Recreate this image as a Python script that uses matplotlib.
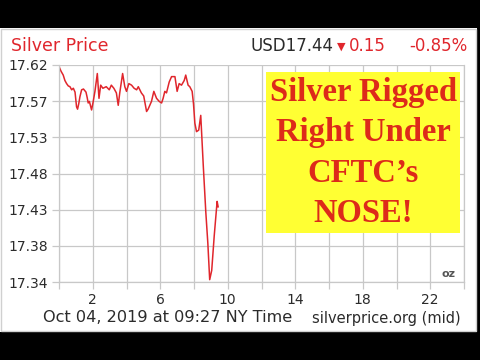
import matplotlib
matplotlib.use("Agg")
import matplotlib.pyplot as plt
from matplotlib.patches import Rectangle

# -----------------------------------
# Data
# -----------------------------------

hours = [0.0, 0.12, 0.25, 0.35, 0.45, 0.55, 0.65, 0.75, 0.85, 0.95,
         1.04, 1.1, 1.17, 1.24, 1.34, 1.45, 1.6, 1.67, 1.73, 1.8,
         1.93, 2.02, 2.13, 2.27, 2.37, 2.47, 2.6, 2.8, 2.98, 3.1,
         3.25, 3.4, 3.51, 3.6, 3.77, 3.9, 4.0, 4.14, 4.3, 4.45,
         4.6, 4.7, 4.88, 5.02, 5.19, 5.28, 5.48, 5.62, 5.78, 5.94,
         6.08, 6.17, 6.27, 6.37, 6.53, 6.67, 6.87, 7.0, 7.12, 7.26,
         7.42, 7.51, 7.65, 7.75, 7.89, 7.97, 8.05, 8.15, 8.28, 8.40,
         8.55, 8.7, 8.82, 8.93, 9.05, 9.2, 9.37, 9.43]

prices = [17.618, 17.612, 17.607, 17.600, 17.596, 17.593, 17.592, 17.588, 17.590, 17.585,
          17.566, 17.563, 17.570, 17.579, 17.588, 17.589, 17.585, 17.578, 17.571, 17.573,
          17.562, 17.572, 17.586, 17.609, 17.577, 17.594, 17.590, 17.592, 17.588, 17.594,
          17.590, 17.584, 17.568, 17.584, 17.609, 17.592, 17.586, 17.596, 17.594, 17.590,
          17.588, 17.592, 17.584, 17.580, 17.560, 17.563, 17.573, 17.586, 17.577, 17.573,
          17.571, 17.577, 17.586, 17.584, 17.598, 17.605, 17.605, 17.586, 17.596, 17.594,
          17.600, 17.607, 17.594, 17.592, 17.586, 17.570, 17.545, 17.534, 17.536, 17.555,
          17.490, 17.430, 17.390, 17.343, 17.355, 17.400, 17.444, 17.437]

y_min, y_max = 17.34, 17.62
y_labels = ["17.34", "17.38", "17.43", "17.48", "17.53", "17.57", "17.62"]

x_ticks = [0, 2, 4, 6, 8, 10, 12, 14, 16, 18, 20, 22, 24]
x_labels = ["", "2", "", "6", "", "10", "", "14", "", "18", "", "22", ""]

red = "#e0262c"
dark = "#2b2b2b"
grid_gray = "#c8c8c8"

# -----------------------------------
# Figure: white panel, black bars top/bottom/right
# -----------------------------------

fig = plt.figure(figsize=(4.8, 3.6), dpi=100, facecolor="white")
for (x0, y0, w, h) in [(0, 332, 480, 28), (0, 0, 480, 28), (477, 0, 3, 360)]:
    fig.patches.append(Rectangle((x0 / 480, 1 - (y0 + h) / 360), w / 480, h / 360,
                                 transform=fig.transFigure, facecolor="black",
                                 edgecolor="none"))
fig.patches.append(Rectangle((1 / 480, 1 - 331 / 360), 475 / 480, 302 / 360,
                             transform=fig.transFigure, facecolor="none",
                             edgecolor="#d0d0d0", linewidth=1.0))

ax = fig.add_axes([59 / 480, 1 - 282 / 360, 405 / 480, 217 / 360])

ax.plot(hours, prices, color=red, linewidth=1.1)

ax.set_xlim(0, 24)
ax.set_ylim(y_min, y_max)

step = (y_max - y_min) / 6
y_ticks = [y_min + i * step for i in range(7)]
ax.set_yticks(y_ticks)
ax.set_yticklabels(y_labels)
ax.set_xticks(x_ticks)
ax.set_xticklabels(x_labels)

ax.grid(True, color=grid_gray, linewidth=0.9)
ax.tick_params(axis="both", colors=grid_gray, length=5, width=0.9,
               labelcolor=dark, labelsize=10)
ax.tick_params(axis="y", pad=3)
ax.tick_params(axis="x", pad=3)
for s in ax.spines.values():
    s.set_color(grid_gray)
    s.set_linewidth(0.9)
ax.spines["top"].set_visible(False)

# -----------------------------------
# Header and footer text
# -----------------------------------

fig.text(11 / 480, 1 - 46 / 360, "Silver Price", color=red, fontsize=12.5,
         ha="left", va="center")

fig.text(251 / 480, 1 - 46 / 360, "USD17.44", color=dark, fontsize=12,
         ha="left", va="center")
fig.text(337 / 480, 1 - 47 / 360, "\u25BC", color=red, fontsize=8,
         ha="left", va="center")
fig.text(349 / 480, 1 - 46 / 360, "0.15", color=red, fontsize=12,
         ha="left", va="center")
fig.text(467 / 480, 1 - 46 / 360, "-0.85%", color=red, fontsize=12,
         ha="right", va="center")

fig.text(43 / 480, 1 - 318 / 360, "Oct 04, 2019 at 09:27 NY Time",
         color=dark, fontsize=11.6, ha="left", va="center")
fig.text(461 / 480, 1 - 318 / 360, "silverprice.org (mid)",
         color=dark, fontsize=10.5, ha="right", va="center")

ax.text(23.5, 17.35, "oz", color="#555555", fontsize=8, fontweight="bold",
        ha="right", va="center")

# -----------------------------------
# Yellow caption box
# -----------------------------------

fig.patches.append(Rectangle((266 / 480, 1 - 233 / 360), 194 / 480, 161 / 360,
                             transform=fig.transFigure, facecolor="#ffff33",
                             edgecolor="none", zorder=3))
fig.text(363 / 480, 1 - 153 / 360, "Silver Rigged\nRight Under\nCFTC\u2019s\nNOSE!",
         color="#dd2a1a", fontsize=23.5, fontweight="bold",
         family="Liberation Serif", ha="center", va="center",
         linespacing=1.38, zorder=4)

fig.savefig("out.png", dpi=100)
